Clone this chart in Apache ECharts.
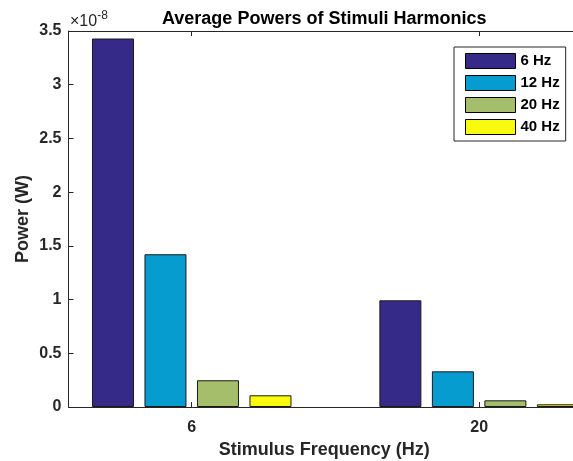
<!DOCTYPE html>
<html>
<head>
<meta charset="utf-8">
<script src="https://cdn.jsdelivr.net/npm/echarts@6/dist/echarts.min.js"></script>
<style>
html,body{margin:0;padding:0;background:#fff;}
#chart{width:573px;height:461px;}
</style>
</head>
<body>
<div id="chart"></div>
<script>
// Data (power values in units of 1e-8 W)
const categories = ['6', '20'];           // stimulus frequency (Hz)
const seriesNames = ['6 Hz', '12 Hz', '20 Hz', '40 Hz'];
const harm6Hz  = [3.43, 0.993];
const harm12Hz = [1.422, 0.332];
const harm20Hz = [0.249, 0.062];
const harm40Hz = [0.109, 0.025];
const yTicks = [0, 0.5, 1, 1.5, 2, 2.5, 3, 3.5];
const exponentLabel = '-8';

const colors = ['#352a87', '#079ccf', '#a5be6b', '#f9fb0e'];
const FONT = "'Liberation Sans', Arial, Helvetica, sans-serif";
const AX = '#262626';

const seriesData = [harm6Hz, harm12Hz, harm20Hz, harm40Hz];
const positions = categories.map((c, i) => i + 1);

const chart = echarts.init(document.getElementById('chart'), null, {renderer: 'canvas'});

const xCommon = {
  type: 'value',
  min: 0.5712,
  max: 2.351,
  splitLine: {show: false},
  axisLine: {show: true, onZero: false, lineStyle: {color: AX, width: 1}},
  axisTick: {show: true, inside: true, length: 5, customValues: positions, lineStyle: {color: AX}},
};

const option = {
  animation: false,
  color: colors,
  textStyle: {fontFamily: FONT},
  title: {
    text: 'Average Powers of Stimuli Harmonics',
    left: 162, top: 10, padding: 0,
    textStyle: {fontFamily: FONT, fontSize: 18, fontWeight: 'bold', color: '#000'}
  },
  grid: {left: 68.5, top: 31, right: -7, bottom: 54, containLabel: false, outerBoundsMode: 'none'},
  legend: {
    orient: 'vertical',
    left: 454, top: 47,
    padding: [6, 6, 6, 11],
    itemWidth: 50, itemHeight: 15, itemGap: 6,
    backgroundColor: '#fff',
    borderColor: '#262626', borderWidth: 1, borderRadius: 0,
    icon: 'rect',
    itemStyle: {borderColor: '#000', borderWidth: 1},
    textStyle: {fontFamily: FONT, fontSize: 15, fontWeight: 'bold', color: '#000'},
    data: seriesNames
  },
  xAxis: [
    Object.assign({}, xCommon, {
      position: 'bottom',
      name: 'Stimulus Frequency (Hz)',
      nameLocation: 'middle',
      nameGap: 34,
      nameMoveOverlap: false,
      nameTextStyle: {fontFamily: FONT, fontSize: 18, fontWeight: 'bold', color: AX},
      axisLabel: {
        show: true, customValues: positions, margin: 13,
        fontFamily: FONT, fontSize: 16, fontWeight: 'bold', color: AX,
        formatter: v => categories[Math.round(v) - 1]
      }
    }),
    Object.assign({}, xCommon, {
      position: 'top',
      axisLabel: {show: false}
    })
  ],
  yAxis: [
    {
      type: 'value', min: 0, max: 3.5, interval: 0.5,
      position: 'left',
      name: 'Power (W)', nameLocation: 'middle', nameGap: 36, nameRotate: 90,
      nameMoveOverlap: false,
      nameTextStyle: {fontFamily: FONT, fontSize: 18, fontWeight: 'bold', color: AX},
      splitLine: {show: false},
      axisLine: {show: true, lineStyle: {color: AX, width: 1}},
      axisTick: {show: true, inside: true, length: 5, lineStyle: {color: AX}},
      axisLabel: {
        margin: 7, fontFamily: FONT, fontSize: 16, fontWeight: 'bold', color: AX,
        formatter: v => (yTicks.includes(v) ? String(v) : '')
      }
    }
  ],
  graphic: [{
    type: 'text',
    left: 70, top: 10,
    style: {
      text: '{b|×10}{e|' + exponentLabel + '}',
      rich: {
        b: {fontFamily: FONT, fontSize: 16, fill: AX, verticalAlign: 'bottom', lineHeight: 20},
        e: {fontFamily: FONT, fontSize: 12, fill: AX, verticalAlign: 'top', lineHeight: 20, padding: [0, 0, 8, 0]}
      }
    }
  }],
  series: seriesNames.map((name, s) => ({
    name: name,
    type: 'bar',
    xAxisIndex: 0, yAxisIndex: 0,
    barWidth: 42,
    barGap: '25%',
    itemStyle: {color: colors[s], borderColor: '#1a1a1a', borderWidth: 1},
    data: seriesData[s].map((v, i) => [positions[i], v])
  }))
};

chart.setOption(option);
</script>
</body>
</html>
